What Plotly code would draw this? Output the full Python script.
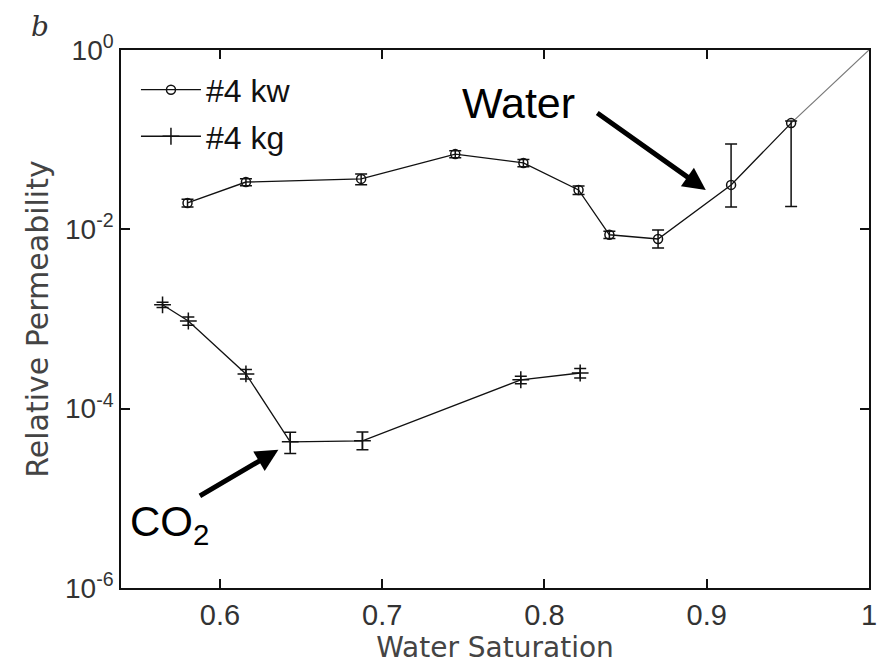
import plotly.graph_objects as go

# Data
kw_sw = [0.580, 0.616, 0.687, 0.745, 0.787, 0.821, 0.840, 0.870, 0.915, 0.952]
kw_kr = [0.0197, 0.0337, 0.0365, 0.069, 0.055, 0.0275, 0.0087, 0.0078, 0.0313, 0.153]
kw_err_up = [0.002, 0.003, 0.005, 0.006, 0.005, 0.003, 0.0008, 0.002, 0.058, 0.008]
kw_err_dn = [0.002, 0.003, 0.005, 0.006, 0.005, 0.003, 0.0008, 0.0016, 0.0135, 0.135]

kg_sw = [0.5646, 0.5805, 0.616, 0.6433, 0.6878, 0.7854, 0.822]
kg_kr = [1.44e-3, 9.5e-4, 2.44e-4, 4.27e-5, 4.38e-5, 2.1e-4, 2.5e-4]
kg_err_up = [1.0e-4, 1.0e-4, 3.0e-5, 1.2e-5, 1.1e-5, 2.0e-5, 3.0e-5]
kg_err_dn = [1.0e-4, 1.0e-4, 3.0e-5, 1.1e-5, 0.9e-5, 2.0e-5, 3.0e-5]

ext_sw = [0.952, 1.0]
ext_kr = [0.153, 1.0]

y_tickvals = [1e-6, 1e-4, 1e-2, 1e0]
y_ticktext = ["10<sup>-6</sup>", "10<sup>-4</sup>", "10<sup>-2</sup>", "10<sup>0</sup>"]
x_tickvals = [0.6, 0.7, 0.8, 0.9, 1.0]
x_ticktext = ["0.6", "0.7", "0.8", "0.9", "1"]

FONT = "Liberation Sans, Arial, sans-serif"
TFONT = "DejaVu Sans, sans-serif"

fig = go.Figure()
fig.add_trace(go.Scatter(
    x=ext_sw, y=ext_kr, mode="lines", showlegend=False,
    line=dict(color="#777777", width=1.2), hoverinfo="skip"))
fig.add_trace(go.Scatter(
    x=kw_sw, y=kw_kr, mode="lines+markers", name="#4 kw", legendgroup="a",
    line=dict(color="#111111", width=1.3),
    marker=dict(symbol="circle-open", size=9, color="#111111", line=dict(width=1.5)),
    error_y=dict(type="data", symmetric=False, array=kw_err_up, arrayminus=kw_err_dn,
                 color="#111111", thickness=1.5, width=6)))
fig.add_trace(go.Scatter(
    x=kg_sw, y=kg_kr, mode="lines+markers", name="#4 kg", legendgroup="b",
    line=dict(color="#111111", width=1.3),
    marker=dict(symbol="cross-thin-open", size=12, color="#111111", line=dict(width=1.5)),
    error_y=dict(type="data", symmetric=False, array=kg_err_up, arrayminus=kg_err_dn,
                 color="#111111", thickness=1.5, width=6)))

fig.update_layout(
    width=884, height=667,
    margin=dict(l=121, r=7, t=50, b=79),
    paper_bgcolor="white", plot_bgcolor="white",
    font=dict(family=FONT, color="#222222"),
    showlegend=True,
    legend=dict(x=0.02, y=0.977, xanchor="left", yanchor="top",
                bgcolor="rgba(0,0,0,0)", font=dict(size=32, color="#111111"),
                itemwidth=60, tracegroupgap=2),
    xaxis=dict(range=[0.539, 1.0], tickvals=x_tickvals, ticktext=x_ticktext,
               ticks="inside", ticklen=9, tickwidth=1.5, tickcolor="#111111",
               showline=True, linecolor="#111111", linewidth=1.5, mirror="ticks",
               showgrid=False, zeroline=False,
               tickfont=dict(size=29, color="#333333"),
               title=dict(text="Water Saturation", font=dict(size=28, color="#444444", family=TFONT), standoff=4)),
    yaxis=dict(type="log", range=[-6, 0], tickvals=y_tickvals, ticktext=y_ticktext,
               ticks="inside", ticklen=9, tickwidth=1.5, tickcolor="#111111",
               showline=True, linecolor="#111111", linewidth=1.5, mirror="ticks",
               showgrid=False, zeroline=False,
               tickfont=dict(size=28, color="#333333"),
               title=dict(text="Relative Permeability", font=dict(size=30, color="#444444", family=TFONT), standoff=8)),
    annotations=[
        dict(x=0.8994, y=-1.561, xref="x", yref="y", ax=-110, ay=-78,
             showarrow=True, arrowhead=2, arrowsize=0.9, arrowwidth=5, arrowcolor="black", text=""),
        dict(x=0.636, y=-4.459, xref="x", yref="y", ax=-80, ay=47,
             showarrow=True, arrowhead=2, arrowsize=0.9, arrowwidth=5, arrowcolor="black", text=""),
        dict(x=0.784, y=-0.591, xref="x", yref="y", text="Water", showarrow=False,
             xanchor="center", yanchor="middle",
             font=dict(size=43, color="black", family=FONT)),
        dict(x=0.5689, y=-5.295, xref="x", yref="y", text="CO<sub>2</sub>", showarrow=False,
             xanchor="center", yanchor="middle",
             font=dict(size=42, color="black", family=FONT)),
        dict(x=-0.108, y=1.043, xref="paper", yref="paper", text="<i>b</i>", showarrow=False,
             xanchor="center", yanchor="middle",
             font=dict(size=28, color="#333333", family="DejaVu Serif, serif")),
    ],
)

fig.write_html("out.html")
